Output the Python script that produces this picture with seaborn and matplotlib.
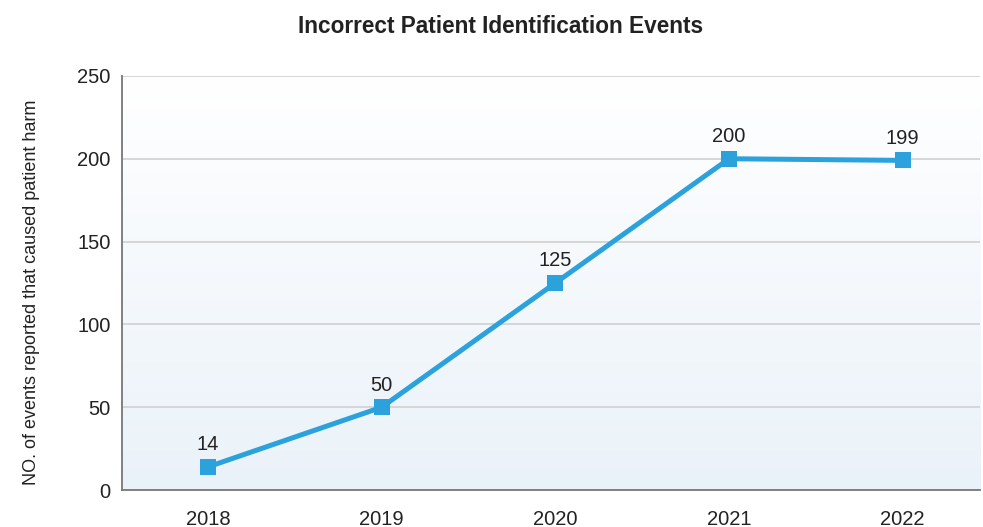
import numpy as np
import pandas as pd
import matplotlib
matplotlib.use("Agg")
import matplotlib.pyplot as plt
from matplotlib.colors import LinearSegmentedColormap
import seaborn as sns

years = ["2018", "2019", "2020", "2021", "2022"]
events = [14, 50, 125, 200, 199]

sns.set_style("white")
plt.rcParams["font.family"] = ["Liberation Sans", "DejaVu Sans"]

df = pd.DataFrame({"year": years, "events": events})

fig = plt.figure(figsize=(9.83, 5.27), dpi=100)
ax = fig.add_axes([0.124, 0.070, 0.873, 0.786])

# soft white-to-blue gradient behind the plot
grad = LinearSegmentedColormap.from_list("bg", ["#eaf2f9", "#ffffff"])
ax.imshow(np.linspace(0, 1, 256).reshape(-1, 1), cmap=grad, aspect="auto",
          extent=[0, 1, 0, 1], transform=ax.transAxes, zorder=0,
          origin="lower")

sns.lineplot(data=df, x="year", y="events", ax=ax, color="#2ca2dc",
             linewidth=3.6, marker="s", markersize=11.5, markeredgewidth=0,
             sort=False, zorder=3)

for i, v in enumerate(events):
    ax.annotate(str(v), (i, v), xytext=(0, 9), textcoords="offset points",
                ha="center", va="bottom", fontsize=14.5, color="#222222")

ax.set_xlim(-0.495, 4.445)
ax.set_ylim(0, 250)
ax.set_yticks(range(0, 251, 50))
ax.yaxis.grid(True, color="#d0d0d0", linewidth=1.2, zorder=1)
ax.set_axisbelow(True)

for s in ["top", "right"]:
    ax.spines[s].set_visible(False)
for s in ["left", "bottom"]:
    ax.spines[s].set_color("#777777")
    ax.spines[s].set_linewidth(1.3)

ax.tick_params(axis="both", length=0, labelsize=14.5, colors="#222222")
ax.tick_params(axis="x", pad=14)
ax.tick_params(axis="y", pad=8)
ax.set_xlabel("")
ax.set_ylabel("NO. of events reported that caused patient harm",
              fontsize=13, color="#222222")
ax.yaxis.set_label_coords(-0.096, 0.478)

fig.suptitle("Incorrect Patient Identification Events", x=0.509, y=0.972,
             fontsize=16.3, fontweight="bold", color="#222222")

fig.savefig("out.png", dpi=100)
